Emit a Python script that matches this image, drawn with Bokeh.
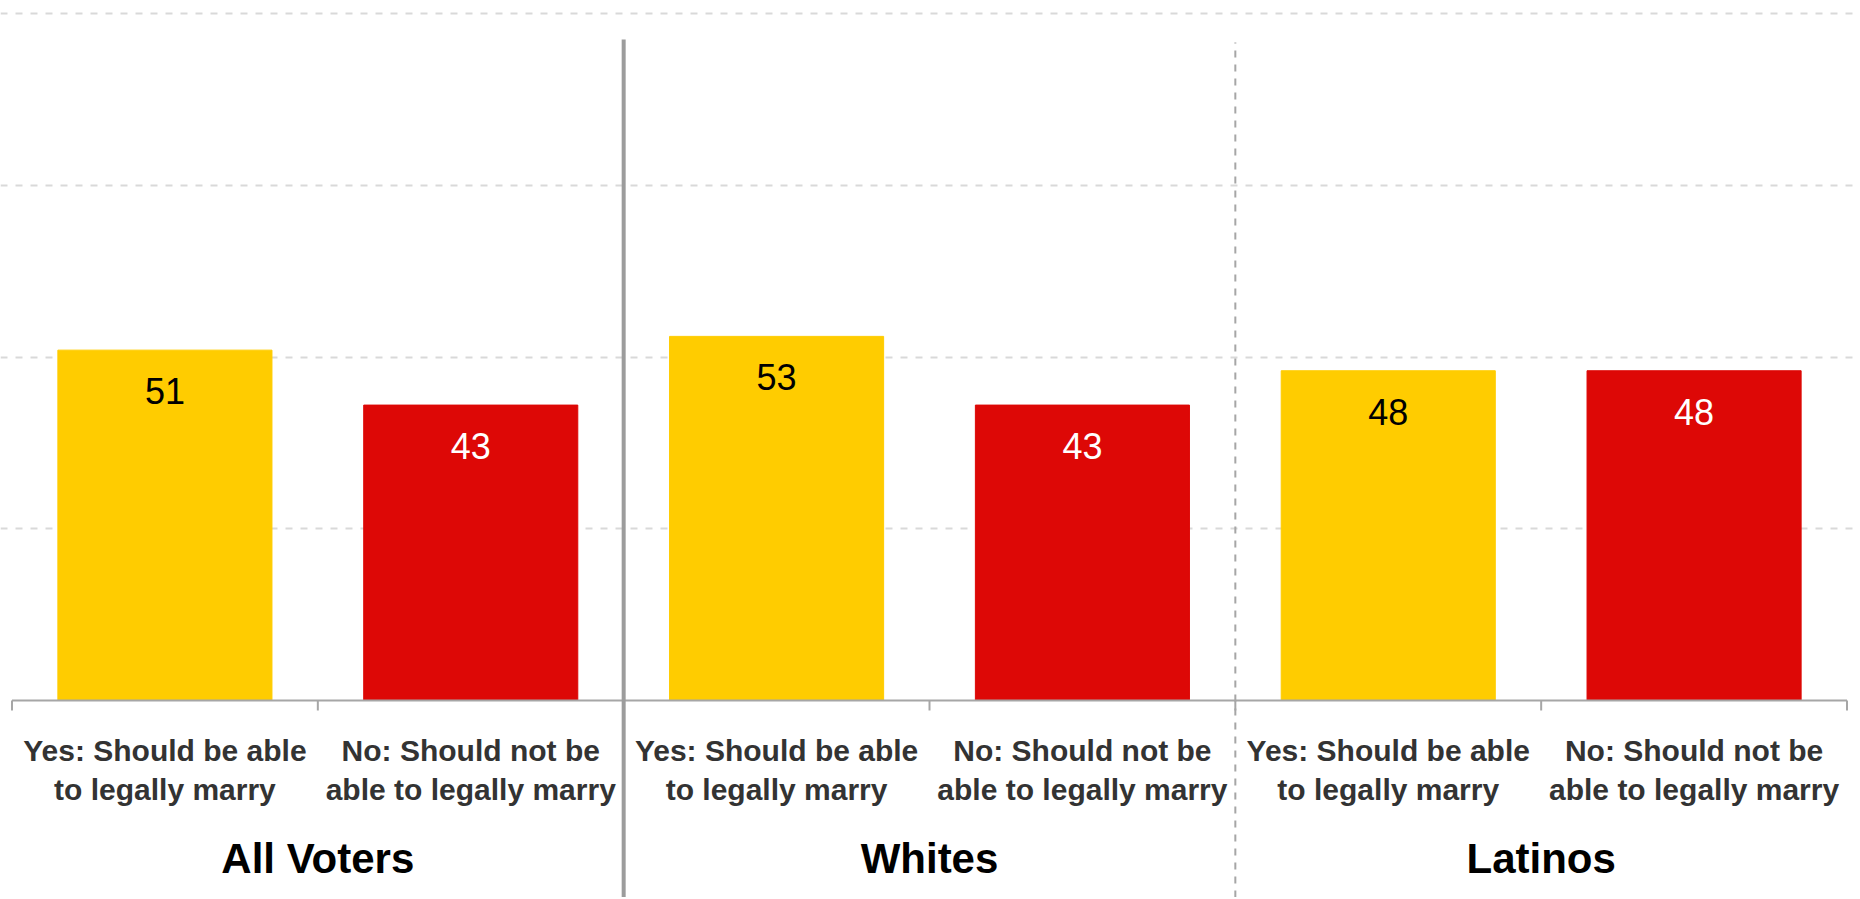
import numpy as np
from bokeh.plotting import figure
from bokeh.models import FactorRange, ColumnDataSource, Grid, FixedTicker
from bokeh.core.properties import value
from bokeh.embed import file_html
from bokeh.resources import INLINE

# ---- data ----
groups = ["All Voters", "Whites", "Latinos"]
answers = ["Yes: Should be able\nto legally marry", "No: Should not be\nable to legally marry"]
yes_values = [51, 53, 48]
no_values = [43, 43, 48]
grid_ticks = [25, 50, 75, 100]

YELLOW = "#FFCC00"
RED = "#DD0806"
FONT = "Liberation Sans"

factors = [(g, a) for g in groups for a in answers]
vals = []
cols = []
lab_cols = []
for yv, nv in zip(yes_values, no_values):
    vals += [yv, nv]
    cols += [YELLOW, RED]
    lab_cols += ["#000000", "#FFFFFF"]

# ---- geometry (screen pixels) ----
W, H = 1858, 897
BASE = 700.0          # baseline y in frame pixels (from top)
PX = 6.87             # pixels per percentage point
y_start = -(H - BASE) / PX
y_end = BASE / PX

x_range = FactorRange(factors=factors, factor_padding=0, group_padding=0,
                      subgroup_padding=0, range_padding=0.0376,
                      range_padding_units="absolute")

p = figure(width=W, height=H, x_range=x_range, y_range=(y_start, y_end),
           x_axis_location=None, y_axis_location=None,
           toolbar_location=None, output_backend="svg", min_border=0)
p.outline_line_color = None
p.background_fill_color = "white"
p.border_fill_color = "white"
p.grid.visible = False

p.add_layout(Grid(dimension=1, ticker=FixedTicker(ticks=grid_ticks),
                  grid_line_color="#D9D9D9", grid_line_dash="7 8",
                  grid_line_width=2))

src = ColumnDataSource(dict(x=factors, top=vals, color=cols, lc=lab_cols,
                            ly=[v - 41 / PX for v in vals],
                            txt=[str(v) for v in vals]))
p.vbar(x="x", top="top", bottom=0, width=0.7, color="color", source=src)

p.text(x="x", y="ly", text="txt", text_color="lc", source=src,
       text_font=value(FONT), text_font_size="36px",
       text_align="center", text_baseline="alphabetic")

# baseline axis line
p.segment(x0=[(groups[0], answers[0], -0.5)], y0=[0],
          x1=[(groups[-1], answers[-1], 0.5)], y1=[0],
          line_color="#A6A6A6", line_width=2)

# boundary ticks
tick_x = [(g, a, -0.5) for g, a in factors] + [(groups[-1], answers[-1], 0.5)]
p.segment(x0=tick_x, y0=[0] * len(tick_x), x1=tick_x,
          y1=[-10 / PX] * len(tick_x), line_color="#A6A6A6", line_width=2)

# category labels
p.text(x=factors, y=[-33 / PX] * len(factors), text=[a for g, a in factors],
       text_color="#333333", text_font=value(FONT), text_font_size="30px",
       text_font_style="bold", text_align="center", text_baseline="top",
       text_line_height=1.19)

# group labels
p.text(x=groups, y=[-157.5 / PX] * len(groups), text=groups,
       text_color="#000000", text_font=value(FONT), text_font_size="42px",
       text_font_style="bold", text_align="center", text_baseline="alphabetic")

# separators
p.segment(x0=[(groups[0], answers[-1], 0.5)], y0=[y_start],
          x1=[(groups[0], answers[-1], 0.5)], y1=[(BASE - 39) / PX],
          line_color="#9C9C9C", line_width=4)
p.segment(x0=[(groups[1], answers[-1], 0.5)], y0=[y_start],
          x1=[(groups[1], answers[-1], 0.5)], y1=[(BASE - 42) / PX],
          line_color="#A6A6A6", line_width=2, line_dash="7 7")

open("out.html", "w").write(file_html(p, INLINE))
